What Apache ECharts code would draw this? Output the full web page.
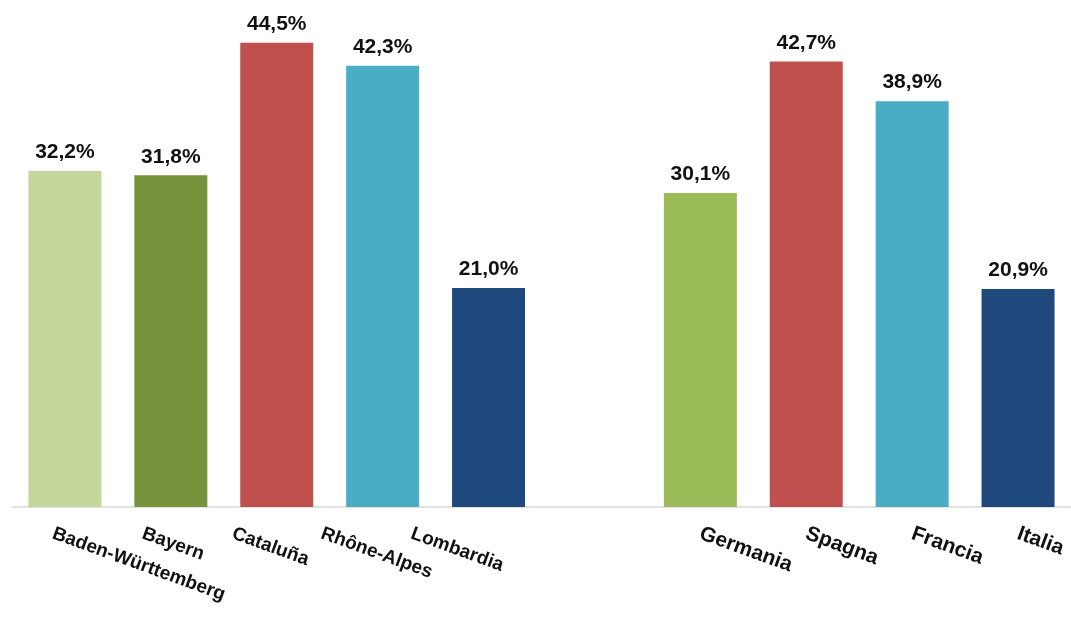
<!DOCTYPE html>
<html><head><meta charset="utf-8">
<script src="https://cdn.jsdelivr.net/npm/echarts@6/dist/echarts.min.js"></script>
<style>html,body{margin:0;padding:0;background:#fff}#c{width:1071px;height:617px}</style>
</head><body><div id="c"></div>
<script>
const categories = ['Baden-Württemberg','Bayern','Cataluña','Rhône-Alpes','Lombardia','','Germania','Spagna','Francia','Italia'];
const values = [32.2, 31.8, 44.5, 42.3, 21.0, null, 30.1, 42.7, 38.9, 20.9];
const colors = ['#c4d79b','#77933c','#c0504d','#4bacc6','#1f497d','#ffffff','#9bbb59','#c0504d','#4bacc6','#1f497d'];
// horizontal shift of each category label start (px)
const labelShift = [12, 28, 44, 61, 77, 0, 0, 0, 0, 0];

const ang = 20*Math.PI/180;
const font = 'Liberation Sans, Arial, sans-serif';
const rich = {
  t:{fontFamily:font,fontWeight:'bold',fontSize:21,color:'#111',lineHeight:24},
  r:{fontFamily:font,fontWeight:'bold',fontSize:19,color:'#111',lineHeight:22}
};
labelShift.forEach((dx,i)=>{ rich['s'+i] = {fontSize:1,lineHeight:Math.max(1,2*dx*Math.sin(ang))}; });

const chart = echarts.init(document.getElementById('c'));
chart.setOption({
  animation:false,
  grid:{left:12,right:0,top:0,height:507,containLabel:false},
  xAxis:{type:'category',
    data:categories.map((c,i)=>({value:c,textStyle:{padding:[0,0,0,-labelShift[i]*Math.cos(ang)]}})),
    axisLine:{lineStyle:{color:'#d9d9d9',width:1.5}},
    axisTick:{show:false},
    axisLabel:{interval:0,rotate:-20,margin:26,rich:rich,
      formatter:(v,i)=> i<5 ? '{s'+i+'| }\n{r|'+v+'}' : '{t|'+v+'}'}},
  yAxis:{type:'value',min:0,max:48.6,show:false,splitLine:{show:false}},
  series:[{type:'bar',barWidth:73,
    data:values.map((v,i)=>({value:v,itemStyle:{color:colors[i]}})),
    label:{show:true,position:'top',distance:8,fontFamily:font,fontWeight:'bold',fontSize:21,color:'#111',
      formatter:p=>p.value==null?'':p.value.toFixed(1).replace('.',',')+'%'}}]
});
</script></body></html>
